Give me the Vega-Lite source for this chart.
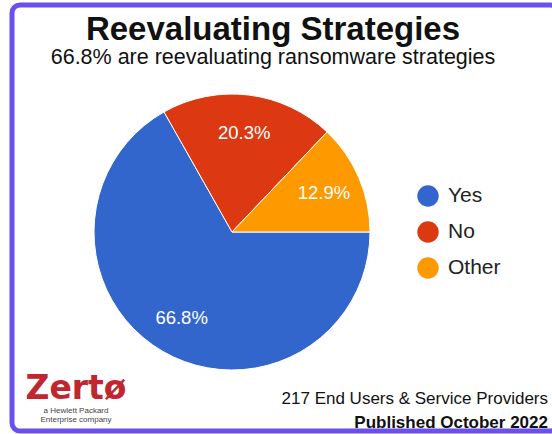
{
  "$schema": "https://vega.github.io/schema/vega-lite/v6.json",
  "width": 546,
  "height": 426,
  "autosize": {"type": "none"},
  "padding": {"left": 12, "top": 5, "right": -6, "bottom": 3},
  "background": "white",
  "config": {
    "view": {"stroke": null},
    "font": "Liberation Sans"
  },
  "title": {
    "text": "Reevaluating Strategies",
    "subtitle": "66.8% are reevaluating ransomware strategies",
    "anchor": "middle",
    "frame": "group",
    "offset": -66,
    "dx": -12,
    "font": "Liberation Sans",
    "fontSize": 33,
    "fontWeight": "bold",
    "color": "#111111",
    "subtitleFont": "Liberation Sans",
    "subtitleFontSize": 21.5,
    "subtitleColor": "#111111",
    "subtitlePadding": 0
  },
  "data": {
    "values": [
      {"answer": "Yes", "share": 66.8, "label": "66.8%", "rank": 1},
      {"answer": "No", "share": 20.3, "label": "20.3%", "rank": 2},
      {"answer": "Other", "share": 12.9, "label": "12.9%", "rank": 3}
    ]
  },
  "layer": [
    {
      "data": {"values": [{"frame": "border"}]},
      "mark": {"type": "rect", "x": 0, "x2": {"expr": "width"}, "y": 0, "y2": {"expr": "height"}, "fill": null, "fillOpacity": 0, "stroke": "#6b4ff0", "strokeWidth": 5, "cornerRadius": 8},
      "encoding": {}
    },
    {
      "mark": {"type": "arc", "outerRadius": 138, "x": 220, "y": 227, "stroke": "white", "strokeWidth": 1},
      "encoding": {
        "theta": {"field": "share", "type": "quantitative", "stack": true, "scale": {"range": [1.5707963, 7.8539816]}},
        "color": {
          "field": "answer",
          "type": "nominal",
          "scale": {"domain": ["Yes", "No", "Other"], "range": ["#3366cc", "#dc3912", "#ff9900"]},
          "legend": {
            "title": null,
            "orient": "none",
            "legendX": 405,
            "legendY": 180,
            "symbolType": "circle",
            "symbolSize": 460,
            "symbolStrokeWidth": 0,
            "labelFont": "Liberation Sans",
            "labelFontSize": 21,
            "labelColor": "#222222",
            "rowPadding": 14,
            "labelOffset": 9,
            "padding": 0
          }
        },
        "order": {"field": "rank", "type": "quantitative"}
      }
    },
    {
      "mark": {"type": "text", "radius": 100, "x": 220, "y": 227, "fill": "white", "fontSize": 18.5, "align": "center", "baseline": "middle"},
      "encoding": {
        "theta": {"field": "share", "type": "quantitative", "stack": true},
        "text": {"field": "label", "type": "nominal"},
        "order": {"field": "rank", "type": "quantitative"}
      }
    },
    {
      "data": {"values": [{"t": "217 End Users & Service Providers"}]},
      "mark": {"type": "text", "x": 536, "y": 399, "align": "right", "baseline": "alphabetic", "fontSize": 17, "color": "#111111"},
      "encoding": {"text": {"field": "t", "type": "nominal"}}
    },
    {
      "data": {"values": [{"t": "Published October 2022"}]},
      "mark": {"type": "text", "x": 536, "y": 423, "align": "right", "baseline": "alphabetic", "fontSize": 17, "fontWeight": "bold", "color": "#111111"},
      "encoding": {"text": {"field": "t", "type": "nominal"}}
    },
    {
      "data": {"values": [{"t": "Zertø"}]},
      "mark": {"type": "text", "x": 64, "y": 394, "align": "center", "baseline": "alphabetic", "font": "DejaVu Sans", "fontSize": 33, "fontWeight": "bold", "color": "#c0262e"},
      "encoding": {"text": {"field": "t", "type": "nominal"}}
    },
    {
      "data": {"values": [{"t": "a Hewlett Packard"}]},
      "mark": {"type": "text", "x": 64, "y": 408, "align": "center", "baseline": "alphabetic", "fontSize": 8, "color": "#444444"},
      "encoding": {"text": {"field": "t", "type": "nominal"}}
    },
    {
      "data": {"values": [{"t": "Enterprise company"}]},
      "mark": {"type": "text", "x": 64, "y": 417, "align": "center", "baseline": "alphabetic", "fontSize": 8, "color": "#444444"},
      "encoding": {"text": {"field": "t", "type": "nominal"}}
    }
  ]
}
